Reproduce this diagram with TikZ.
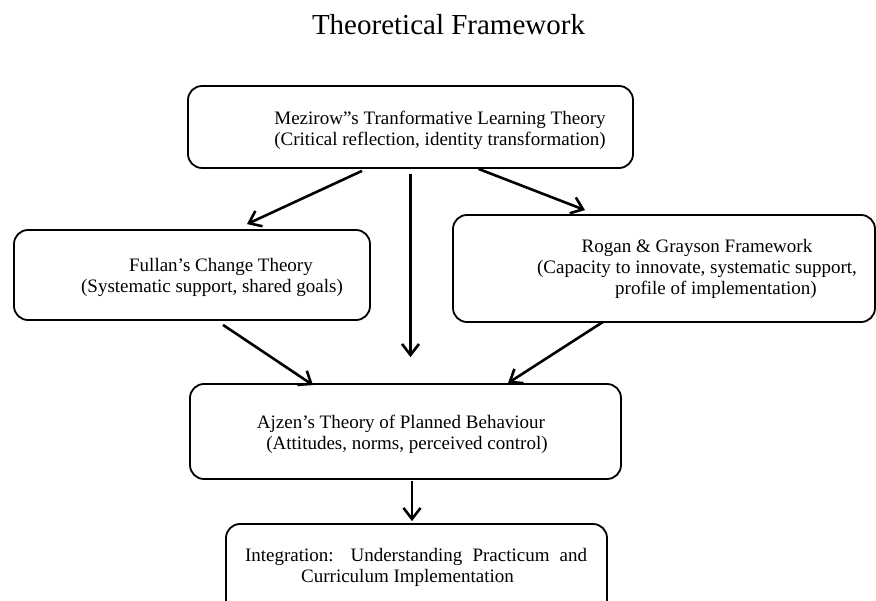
\documentclass[tikz,border=0pt]{standalone}
\usepackage{fontspec}
\setmainfont{Liberation Serif}
\usetikzlibrary{arrows.meta,calc}

\tikzset{
  frame/.style={draw,line width=1.8pt,rounded corners=14pt,inner sep=0pt},
  txt/.style={align=center,font=\fontsize{19pt}{21pt}\selectfont},
  arr/.style={line width=2.6pt,-{Straight Barb[length=11pt,width=17pt]}}
}

\begin{document}
\begin{tikzpicture}[x=1pt,y=-1pt]
  \useasboundingbox (0,0) rectangle (876,601);
  \clip (0,0) rectangle (876,601);

  \node[font=\fontsize{29pt}{33pt}\selectfont,anchor=base] (title) at (448.5,35) {Theoretical Framework};

  % boxes
  \node[frame,minimum width=445pt,minimum height=82pt] (mez) at (410.5,127) {};
  \node[frame,minimum width=356pt,minimum height=90pt] (fullan) at (192,275) {};
  \node[frame,minimum width=422pt,minimum height=107pt] (rogan) at (664,268.5) {};
  \node[frame,minimum width=431pt,minimum height=95pt] (ajzen) at (405.5,431.5) {};
  \node[frame,minimum width=381pt,minimum height=96pt] (integ) at (416.5,572) {};

  % texts
  \node[txt] (mezt) at (440,130.5) {Mezirow''s Tranformative Learning Theory\\(Critical reflection, identity transformation)};
  \node[txt] (fullant) at (212,277.5) {\hspace*{18pt}Fullan's Change Theory\\(Systematic support, shared goals)};
  \node[txt] (rogant) at (697,268.5) {Rogan \& Grayson Framework\\(Capacity to innovate, systematic support,\\\hspace*{38pt}profile of implementation)};
  \node[txt] (ajzent) at (401,434) {Ajzen's Theory of Planned Behaviour\\\hspace*{12pt}(Attitudes, norms, perceived control)};
  \node[txt] (integt) at (416,567) {\makebox[342pt][s]{Integration: Understanding Practicum and}\\Curriculum Implementation\hspace*{17pt}};

  % connectors
  \draw[arr] ($(mez.south)+(-48.5,2)$) -- ($(fullan.north)+(55,-5)$);
  \draw[arr] ($(mez.south)+(0,5)$) -- ($(ajzen.north)+(5,-26)$);
  \draw[arr] ($(mez.south)+(68,0)$) -- ($(rogan.north)+(-79,-4)$);
  \draw[arr] ($(fullan.south)+(31,4)$) -- ($(ajzen.north)+(-92.5,2)$);
  \draw[arr] ($(rogan.south)+(-61,-1)$) -- ($(ajzen.north)+(102.5,0)$);
  \draw[arr] ($(ajzen.south)+(6.5,1)$) -- ($(integ.north)+(-4.5,-2)$);
\end{tikzpicture}
\end{document}
